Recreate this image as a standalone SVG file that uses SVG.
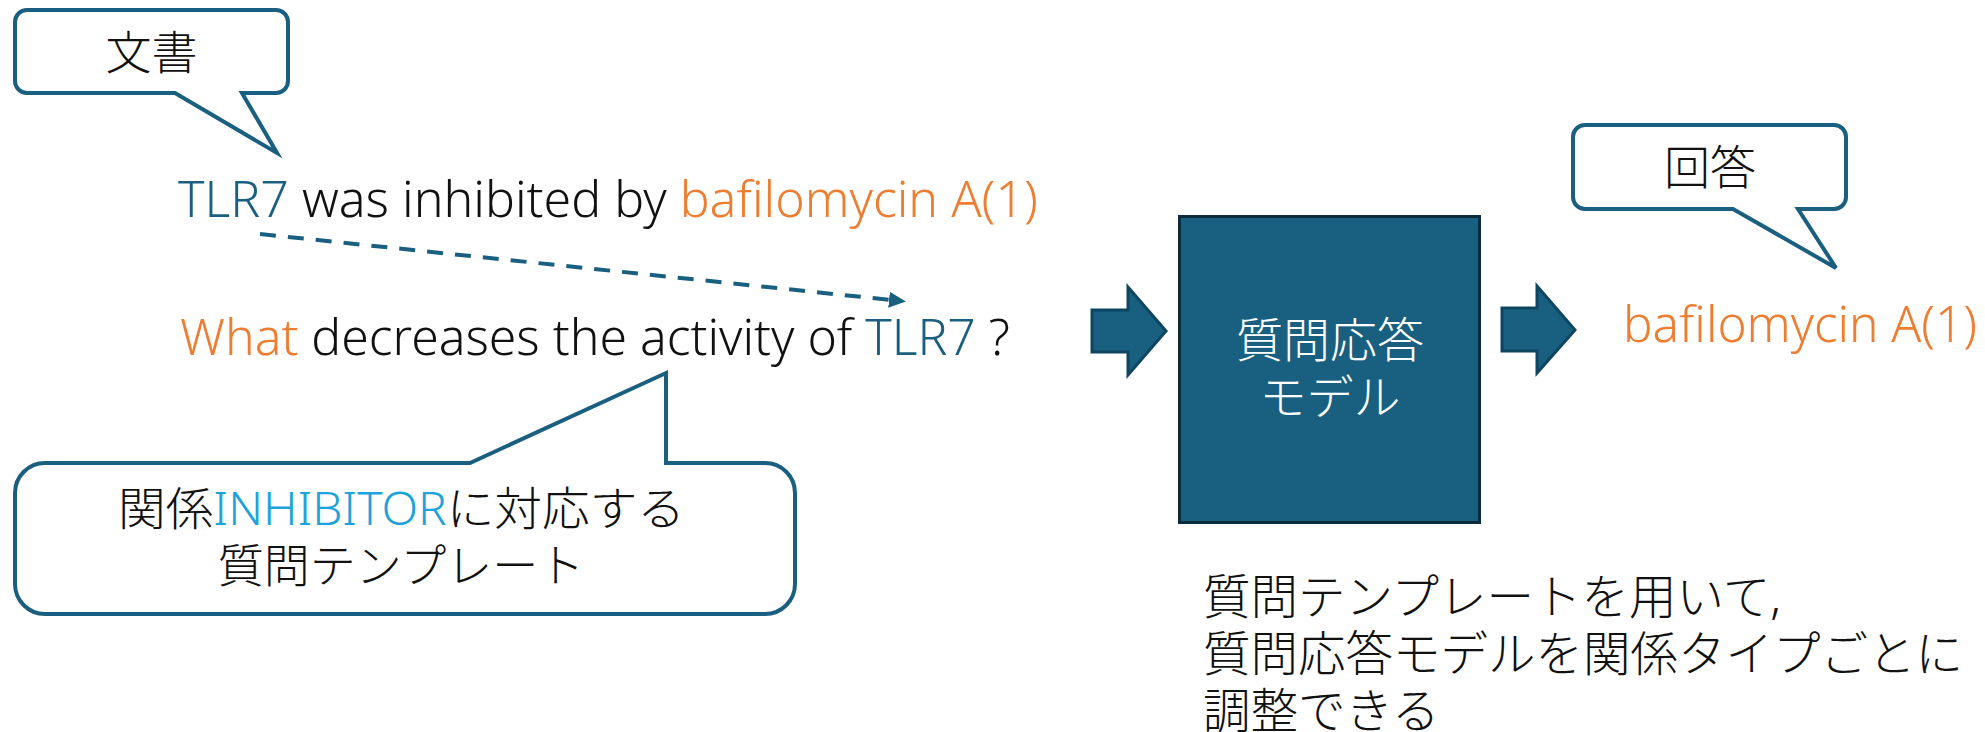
<svg xmlns="http://www.w3.org/2000/svg" width="1985" height="732" viewBox="0 0 1985 732">
<style>
.bubble{fill:#ffffff;stroke:#1a5f80;stroke-width:4;stroke-linejoin:miter}
.lat{font-family:"Noto Sans","Noto Sans CJK JP",sans-serif;font-weight:300;font-size:49px;fill:#111111}
.cjk{font-family:"Noto Sans","Noto Sans CJK JP",sans-serif;font-weight:300;font-size:46px;fill:#111111}
.teal{fill:#1a5f80}
.orange{fill:#ed7d31}
.lblue{fill:#1ca3dc}
.blk{fill:#185f80;stroke:#0e4560;stroke-width:3}
</style>
<defs>
<marker id="ah" markerUnits="userSpaceOnUse" markerWidth="18" markerHeight="16" refX="2" refY="8" orient="auto">
<path d="M0,0 L17,8 L0,16 Z" fill="#1a5f80"/>
</marker>
</defs>

<g id="doc-bubble">
<path class="bubble" d="M27,10 H276 A12,12 0 0 1 288,22 V81 A12,12 0 0 1 276,93 H242 L277,153 L175,93 H27 A12,12 0 0 1 15,81 V22 A12,12 0 0 1 27,10 Z"/>
<text class="cjk" x="151.5" y="69" text-anchor="middle">文書</text>
</g>

<g id="sentence">
<text class="lat" x="178" y="217" textLength="860" lengthAdjust="spacingAndGlyphs"><tspan class="teal">TLR7</tspan> was inhibited by <tspan class="orange">bafilomycin A(1)</tspan></text>
</g>

<g id="question">
<text class="lat" x="180" y="355" textLength="830" lengthAdjust="spacingAndGlyphs"><tspan class="orange">What</tspan> decreases the activity of <tspan class="teal">TLR7</tspan> ?</text>
</g>

<g id="template-bubble">
<path class="bubble" d="M45,463 H470 L666,373 V463 H765 A30,30 0 0 1 795,493 V584 A30,30 0 0 1 765,614 H45 A30,30 0 0 1 15,584 V493 A30,30 0 0 1 45,463 Z"/>
<text class="cjk" x="118" y="525" textLength="567" lengthAdjust="spacingAndGlyphs">関係<tspan class="lblue">INHIBITOR</tspan>に対応する</text>
<text class="cjk" x="401" y="582" text-anchor="middle">質問テンプレート</text>
</g>

<g id="qa-model">
<rect x="1179.5" y="216.5" width="300" height="306" fill="#185f80" stroke="#0c2b3c" stroke-width="3"/>
<text class="cjk" x="1330" y="357" text-anchor="middle" style="fill:#ffffff;font-size:47px">質問応答</text>
<text class="cjk" x="1330" y="414" text-anchor="middle" style="fill:#ffffff;font-size:47px">モデル</text>
</g>

<g id="answer-bubble">
<path class="bubble" d="M1585,125 H1834 A12,12 0 0 1 1846,137 V197 A12,12 0 0 1 1834,209 H1798 L1836,268 L1733,209 H1585 A12,12 0 0 1 1573,197 V137 A12,12 0 0 1 1585,125 Z"/>
<text class="cjk" x="1710" y="184" text-anchor="middle">回答</text>
</g>

<g id="answer">
<text class="lat orange" x="1623" y="342" textLength="354" lengthAdjust="spacingAndGlyphs">bafilomycin A(1)</text>
</g>

<g id="note">
<text class="cjk" x="1203" y="614" style="font-size:47.5px">質問テンプレートを用いて,</text>
<text class="cjk" x="1203" y="671" style="font-size:47.5px">質問応答モデルを関係タイプごとに</text>
<text class="cjk" x="1203" y="728" style="font-size:47.5px">調整できる</text>
</g>

<g id="connectors">
<line x1="260" y1="234" x2="891" y2="300" stroke="#1a5f80" stroke-width="4" stroke-dasharray="16 12" marker-end="url(#ah)"/>
<path class="blk" d="M1092,310 H1128 V287 L1166,331 L1128,375 V352 H1092 Z"/>
<path class="blk" d="M1502,308 H1537 V286 L1575,330 L1537,373 V351 H1502 Z"/>
</g>
</svg>
